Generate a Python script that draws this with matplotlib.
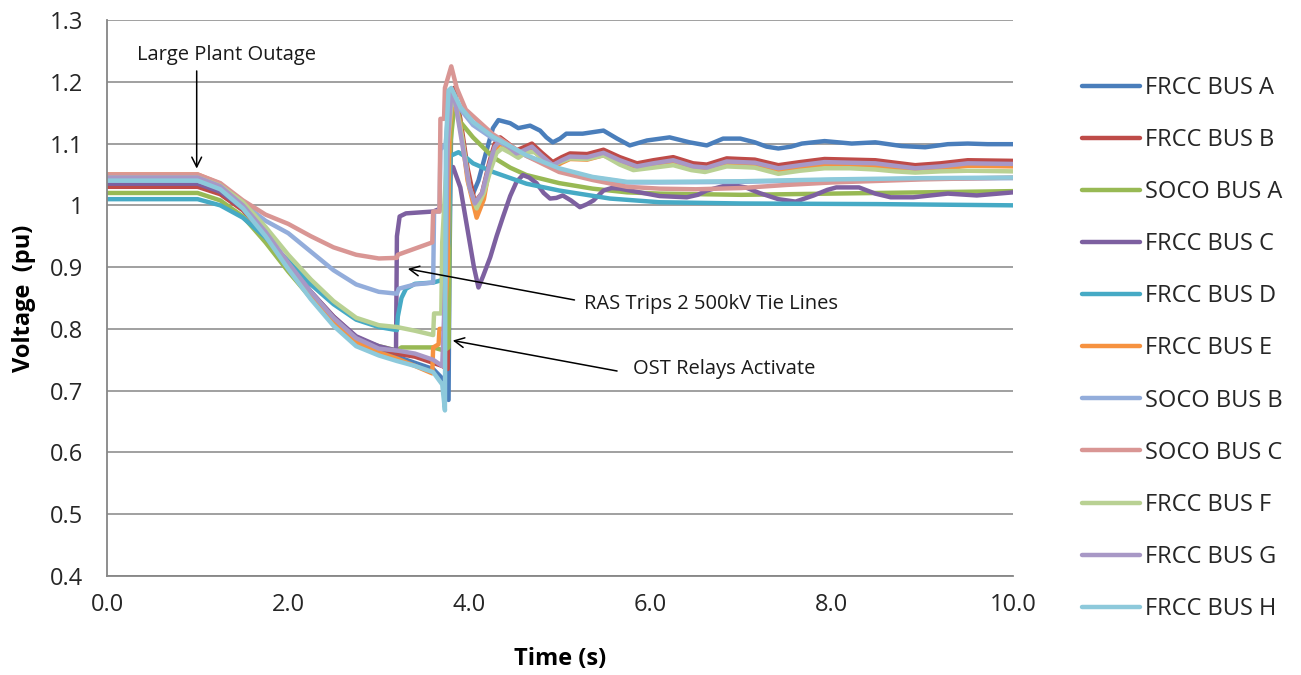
import matplotlib
matplotlib.use("Agg")
from matplotlib import pyplot as plt

plt.rcParams['font.family'] = ['Open Sans', 'DejaVu Sans']

# Bus voltage traces (time in s, voltage in pu)
labels = ["FRCC BUS A", "FRCC BUS B", "SOCO BUS A", "FRCC BUS C", "FRCC BUS D",
          "FRCC BUS E", "SOCO BUS B", "SOCO BUS C", "FRCC BUS F", "FRCC BUS G",
          "FRCC BUS H"]
colors = ["#4A7EBB", "#BE4B48", "#98B954", "#7D60A0", "#46AAC5",
          "#F69240", "#93ADDB", "#D99694", "#B9D193", "#A898C6", "#8DC9DB"]

# common pre-event part (before the RAS action)
t_pre = [0, 1.0, 1.25, 1.5, 1.75, 2.0, 2.25, 2.5, 2.75, 3.0]

bus_a_pre = [1.04, 1.04, 1.027, 0.998, 0.955, 0.905, 0.858, 0.815, 0.783, 0.765]
bus_a_t = [3.2, 3.4, 3.6, 3.7, 3.77, 3.78, 3.8, 3.85, 3.92, 3.98, 4.04, 4.1, 4.19,
           4.26, 4.32, 4.45, 4.54, 4.67, 4.78, 4.85, 4.92, 5.0, 5.07, 5.25, 5.48,
           5.63, 5.77, 5.96, 6.21, 6.43, 6.62, 6.8, 6.99, 7.15, 7.28, 7.41, 7.55,
           7.67, 7.92, 8.22, 8.48, 8.77, 9.03, 9.28, 9.5, 9.72, 10]
bus_a_v = [0.755, 0.745, 0.735, 0.72, 0.685, 0.9, 1.15, 1.17, 1.11, 1.05, 1.019,
           1.04, 1.089, 1.125, 1.138, 1.133, 1.125, 1.129, 1.121, 1.11, 1.102,
           1.108, 1.116, 1.116, 1.121, 1.108, 1.097, 1.105, 1.11, 1.102, 1.097,
           1.108, 1.108, 1.102, 1.095, 1.092, 1.095, 1.1, 1.104, 1.1, 1.102, 1.096,
           1.094, 1.099, 1.1, 1.099, 1.099]

bus_b_pre = [1.03, 1.03, 1.018, 0.992, 0.952, 0.905, 0.86, 0.82, 0.787, 0.77]
bus_b_t = [3.2, 3.4, 3.6, 3.7, 3.76, 3.77, 3.79, 3.83, 3.9, 3.98, 4.06, 4.14, 4.22,
           4.28, 4.34, 4.43, 4.52, 4.6, 4.69, 4.8, 4.92, 5.02, 5.11, 5.3, 5.48,
           5.66, 5.85, 6.03, 6.25, 6.47, 6.62, 6.84, 6.99, 7.15, 7.41, 7.65, 7.92,
           8.2, 8.48, 8.7, 8.92, 9.2, 9.5, 10]
bus_b_v = [0.76, 0.755, 0.745, 0.74, 0.735, 0.9, 1.16, 1.19, 1.14, 1.06, 1.005,
           1.02, 1.07, 1.1, 1.11, 1.1, 1.089, 1.094, 1.1, 1.085, 1.07, 1.078, 1.084,
           1.083, 1.09, 1.078, 1.068, 1.073, 1.078, 1.068, 1.066, 1.076, 1.075,
           1.074, 1.065, 1.07, 1.075, 1.074, 1.073, 1.069, 1.065, 1.068, 1.073,
           1.072]

soco_a_pre = [1.02, 1.02, 1.008, 0.982, 0.94, 0.893, 0.85, 0.812, 0.785, 0.772]
soco_a_t = [3.2, 3.25, 3.6, 3.72, 3.77, 3.79, 3.84, 3.9, 4.04, 4.26, 4.45, 4.63,
            4.99, 5.36, 5.74, 6.1, 7.0, 8.0, 9.0, 10]
soco_a_v = [0.765, 0.77, 0.77, 0.765, 0.77, 1.1, 1.17, 1.135, 1.11, 1.078, 1.061,
            1.049, 1.036, 1.027, 1.021, 1.019, 1.017, 1.019, 1.021, 1.023]

bus_c_pre = [1.035, 1.035, 1.022, 0.995, 0.953, 0.905, 0.86, 0.82, 0.788, 0.772]
bus_c_t = [3.19, 3.2, 3.23, 3.3, 3.6, 3.77, 3.79, 3.82, 3.9, 4.0, 4.05, 4.1, 4.15,
           4.23, 4.3, 4.37, 4.45, 4.52, 4.59, 4.66, 4.74, 4.82, 4.89, 4.96, 5.03,
           5.12, 5.22, 5.3, 5.37, 5.48, 5.57, 5.66, 5.88, 6.1, 6.4, 6.52, 6.62, 6.8,
           6.93, 7.05, 7.2, 7.41, 7.6, 7.8, 7.95, 8.05, 8.3, 8.48, 8.65, 8.9, 9.28,
           9.6, 10]
bus_c_v = [0.765, 0.95, 0.982, 0.987, 0.99, 1.0, 1.06, 1.062, 1.029, 0.943, 0.9,
           0.867, 0.885, 0.916, 0.95, 0.981, 1.015, 1.038, 1.049, 1.045, 1.036,
           1.02, 1.011, 1.012, 1.016, 1.008, 0.997, 1.002, 1.008, 1.024, 1.028,
           1.027, 1.021, 1.015, 1.013, 1.017, 1.024, 1.031, 1.032, 1.029, 1.02, 1.01,
           1.006, 1.016, 1.025, 1.029, 1.029, 1.019, 1.013, 1.013, 1.019, 1.016,
           1.021]

bus_d_pre = [1.01, 1.01, 1.0, 0.98, 0.948, 0.91, 0.872, 0.84, 0.815, 0.803]
bus_d_t = [3.2, 3.21, 3.25, 3.3, 3.4, 3.6, 3.72, 3.77, 3.79, 3.88, 3.95, 4.04, 4.26,
           4.63, 4.99, 5.55, 6.1, 7.0, 8.5, 10]
bus_d_v = [0.798, 0.82, 0.85, 0.865, 0.873, 0.875, 0.88, 0.94, 1.08, 1.086, 1.079,
           1.068, 1.054, 1.035, 1.024, 1.011, 1.005, 1.003, 1.002, 1.0]

bus_e_pre = [1.05, 1.05, 1.035, 1.0, 0.955, 0.903, 0.853, 0.81, 0.778, 0.762]
bus_e_t = [3.2, 3.4, 3.59, 3.6, 3.66, 3.67, 3.72, 3.76, 3.78, 3.82, 3.9, 3.98, 4.08,
           4.16, 4.22, 4.28, 4.34, 4.43, 4.52, 4.6, 4.69, 4.8, 4.92, 5.02, 5.11,
           5.3, 5.48, 5.66, 5.85, 6.03, 6.25, 6.47, 6.62, 6.84, 6.99, 7.15, 7.41,
           7.65, 7.92, 8.2, 8.48, 8.7, 8.92, 9.2, 9.5, 10]
bus_e_v = [0.752, 0.74, 0.728, 0.77, 0.775, 0.8, 0.8, 0.9, 1.12, 1.18, 1.13, 1.04,
           0.98, 1.01, 1.06, 1.09, 1.1, 1.091, 1.08, 1.085, 1.091, 1.076, 1.061,
           1.069, 1.075, 1.074, 1.081, 1.069, 1.059, 1.064, 1.069, 1.059, 1.057,
           1.067, 1.066, 1.065, 1.056, 1.061, 1.066, 1.065, 1.064, 1.06, 1.056,
           1.059, 1.064, 1.063]

soco_b_pre = [1.04, 1.04, 1.028, 1.003, 0.975, 0.955, 0.925, 0.895, 0.872, 0.86]
soco_b_t = [3.2, 3.22, 3.4, 3.6, 3.61, 3.67, 3.68, 3.74, 3.78, 3.85, 4.04, 4.26,
            4.63, 4.99, 5.36, 5.74, 6.1, 7.0, 8.0, 9.0, 10]
soco_b_v = [0.857, 0.865, 0.872, 0.875, 0.99, 0.99, 1.09, 1.1, 1.18, 1.165, 1.13,
            1.108, 1.08, 1.058, 1.045, 1.037, 1.037, 1.038, 1.041, 1.043, 1.044]

soco_c_pre = [1.05, 1.05, 1.036, 1.008, 0.985, 0.97, 0.95, 0.932, 0.92, 0.914]
soco_c_t = [3.2, 3.21, 3.4, 3.59, 3.6, 3.67, 3.68, 3.72, 3.73, 3.77, 3.8, 3.86,
            3.96, 4.26, 4.63, 4.99, 5.36, 5.74, 6.1, 6.5, 7.0, 7.5, 8.0, 9.0, 10]
soco_c_v = [0.915, 0.92, 0.93, 0.94, 0.99, 0.99, 1.14, 1.14, 1.19, 1.21, 1.225,
            1.19, 1.155, 1.115, 1.08, 1.054, 1.041, 1.03, 1.027, 1.026, 1.028,
            1.033, 1.037, 1.042, 1.045]

bus_f_pre = [1.045, 1.045, 1.032, 1.005, 0.965, 0.92, 0.88, 0.845, 0.818, 0.806]
bus_f_t = [3.2, 3.4, 3.6, 3.61, 3.69, 3.7, 3.76, 3.8, 3.84, 3.92, 4.0, 4.08, 4.16,
           4.24, 4.3, 4.36, 4.45, 4.54, 4.63, 4.72, 4.82, 4.92, 5.02, 5.11, 5.3,
           5.48, 5.66, 5.81, 6.03, 6.25, 6.45, 6.6, 6.84, 7.0, 7.15, 7.41, 7.65,
           7.92, 8.2, 8.48, 8.7, 8.92, 9.2, 9.5, 10]
bus_f_v = [0.803, 0.797, 0.79, 0.825, 0.825, 0.94, 1.1, 1.16, 1.17, 1.11, 1.03,
           0.995, 1.02, 1.06, 1.085, 1.092, 1.085, 1.077, 1.086, 1.086, 1.074, 1.065,
           1.071, 1.076, 1.075, 1.081, 1.066, 1.057, 1.061, 1.065, 1.057, 1.054,
           1.063, 1.062, 1.061, 1.051, 1.056, 1.06, 1.06, 1.058, 1.055, 1.053,
           1.055, 1.056, 1.055]

bus_g_pre = [1.045, 1.045, 1.031, 1.0, 0.957, 0.907, 0.86, 0.818, 0.785, 0.768]
bus_g_t = [3.2, 3.4, 3.6, 3.7, 3.74, 3.76, 3.8, 3.84, 3.92, 4.0, 4.06, 4.14, 4.22,
           4.28, 4.34, 4.43, 4.52, 4.6, 4.69, 4.8, 4.92, 5.02, 5.11, 5.3, 5.48,
           5.66, 5.85, 6.03, 6.25, 6.47, 6.62, 6.84, 6.99, 7.15, 7.41, 7.65, 7.92,
           8.2, 8.48, 8.7, 8.92, 9.2, 9.5, 10]
bus_g_v = [0.765, 0.76, 0.75, 0.74, 0.9, 1.1, 1.18, 1.17, 1.1, 1.03, 1.003, 1.02,
           1.066, 1.095, 1.105, 1.095, 1.084, 1.089, 1.095, 1.08, 1.065, 1.073,
           1.079, 1.078, 1.085, 1.073, 1.063, 1.068, 1.073, 1.063, 1.061, 1.071,
           1.07, 1.069, 1.06, 1.065, 1.07, 1.069, 1.068, 1.064, 1.06, 1.063, 1.068,
           1.067]

bus_h_pre = [1.04, 1.04, 1.026, 0.995, 0.95, 0.897, 0.848, 0.805, 0.772, 0.757]
bus_h_t = [3.2, 3.4, 3.6, 3.7, 3.73, 3.74, 3.77, 3.8, 3.9, 4.04, 4.26, 4.63, 4.99,
           5.36, 5.74, 6.1, 7.0, 8.0, 9.0, 10]
bus_h_v = [0.748, 0.74, 0.73, 0.71, 0.668, 1.1, 1.186, 1.19, 1.159, 1.135, 1.111,
           1.081, 1.06, 1.046, 1.038, 1.038, 1.039, 1.042, 1.044, 1.045]

series = [
    (bus_a_pre, bus_a_t, bus_a_v),
    (bus_b_pre, bus_b_t, bus_b_v),
    (soco_a_pre, soco_a_t, soco_a_v),
    (bus_c_pre, bus_c_t, bus_c_v),
    (bus_d_pre, bus_d_t, bus_d_v),
    (bus_e_pre, bus_e_t, bus_e_v),
    (soco_b_pre, soco_b_t, soco_b_v),
    (soco_c_pre, soco_c_t, soco_c_v),
    (bus_f_pre, bus_f_t, bus_f_v),
    (bus_g_pre, bus_g_t, bus_g_v),
    (bus_h_pre, bus_h_t, bus_h_v),
]

fig = plt.figure(figsize=(13.01, 6.75), dpi=100)
ax = fig.add_axes([107 / 1301, 1 - 576 / 675, (1013 - 107) / 1301, (576 - 20) / 675])

for (pre, t, v), lab, col in zip(series, labels, colors):
    ax.plot(t_pre + t, pre + v, color=col, lw=3.2, label=lab,
            solid_joinstyle='round', solid_capstyle='round')

ax.set_xlim(0, 10)
ax.set_ylim(0.4, 1.3)
ax.set_xticks([0, 2, 4, 6, 8, 10])
ax.set_xticklabels(["0.0", "2.0", "4.0", "6.0", "8.0", "10.0"])
ax.set_yticks([0.4, 0.5, 0.6, 0.7, 0.8, 0.9, 1.0, 1.1, 1.2, 1.3])
ax.set_yticklabels(["0.4", "0.5", "0.6", "0.7", "0.8", "0.9", "1", "1.1", "1.2", "1.3"])
ax.tick_params(length=0, labelsize=17, colors="#262626")
ax.tick_params(axis='x', pad=12)
ax.tick_params(axis='y', pad=17)
ax.yaxis.grid(True, color="#868686", lw=1.1)
ax.set_axisbelow(True)
for s in ["top", "right"]:
    ax.spines[s].set_visible(False)
for s in ["left", "bottom"]:
    ax.spines[s].set_color("#868686")
    ax.spines[s].set_linewidth(1.3)

ax.set_xlabel("Time (s)", fontsize=17, fontweight="bold", labelpad=22)
ax.set_ylabel("Voltage  (pu)", fontsize=17, fontweight="bold", labelpad=10)

# annotations
arrow = dict(arrowstyle="->,head_length=0.7,head_width=0.35", color="black", lw=1.1)
ax.text(0.33, 1.243, "Large Plant Outage", fontsize=14.5, va="center", ha="left",
        color="#1a1a1a")
ax.annotate("", xy=(0.99, 1.055), xytext=(0.99, 1.222), arrowprops=arrow)
ax.text(5.265, 0.841, "RAS Trips 2 500kV Tie Lines", fontsize=14.5, va="center",
        ha="left", color="#1a1a1a")
ax.annotate("", xy=(3.29, 0.898), xytext=(5.19, 0.846), arrowprops=arrow)
ax.text(5.81, 0.735, "OST Relays Activate", fontsize=14.5, va="center", ha="left",
        color="#1a1a1a")
ax.annotate("", xy=(3.786, 0.782), xytext=(5.66, 0.731), arrowprops=arrow)

fig.legend(loc="upper left", bbox_to_anchor=(1082 / 1301, 1 - 76 / 675),
           frameon=False, fontsize=17, handlelength=2.45, handletextpad=0.2,
           labelspacing=1.19, borderpad=0, borderaxespad=0, labelcolor="#262626")

fig.savefig("out.png", dpi=100)
